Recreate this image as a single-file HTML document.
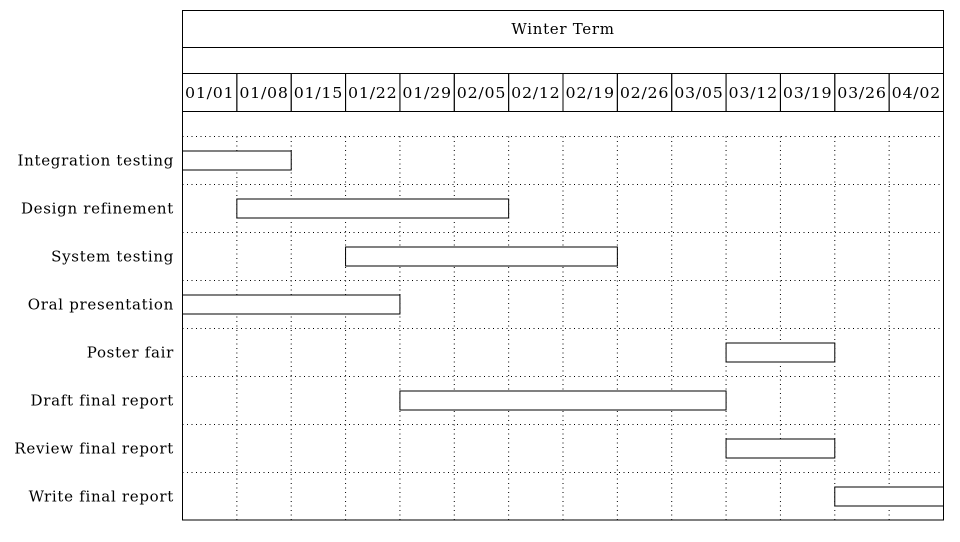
<!DOCTYPE html>
<html><head><meta charset="utf-8"><style>
body{margin:0;background:#fff;}
svg text{font-family:"DejaVu Serif","Liberation Serif",serif;font-size:15px;fill:#000;letter-spacing:0.7px;}
</style></head><body>
<svg width="960" height="537" xmlns="http://www.w3.org/2000/svg">
<g id="g"></g>
</svg>
<script>
const weeks=["01/01","01/08","01/15","01/22","01/29","02/05","02/12","02/19","02/26","03/05","03/12","03/19","03/26","04/02"];
const tasks=["Integration testing","Design refinement","System testing","Oral presentation","Poster fair","Draft final report","Review final report","Write final report"];
const starts=[0,1,3,0,10,4,10,12];
const ends=[2,6,8,4,12,10,12,14];
const title="Winter Term";
const L=182.5,R=943.5,ns="http://www.w3.org/2000/svg",g=document.getElementById('g');
const cw=(R-L)/weeks.length;
const x=w=>L+w*cw;
const rowTop=i=>136.5+48*i;
function el(t,a,txt){const e=document.createElementNS(ns,t);for(const k in a)e.setAttribute(k,a[k]);if(txt!==undefined)e.textContent=txt;g.appendChild(e);return e;}
let e=el('rect',{x:L,y:10.5,width:R-L,height:37,fill:'none',stroke:'#000'});

e=el('text',{x:(L+R)/2,y:34,'text-anchor':'middle'},title);

e=el('rect',{x:L,y:47.5,width:R-L,height:26,fill:'none',stroke:'#000'});

weeks.forEach((w,i)=>{
 e=el('rect',{x:x(i),y:73.5,width:cw,height:38,fill:'none',stroke:'#000'});
 
 e=el('text',{x:x(i)+cw/2,y:98,'text-anchor':'middle',textLength:cw-5,lengthAdjust:'spacingAndGlyphs'},w);
 
});
for(let i=0;i<tasks.length;i++){
 e=el('line',{x1:L,x2:R,y1:rowTop(i),y2:rowTop(i),stroke:'#000','stroke-dasharray':'1 3.5'});
 
}
for(let i=1;i<weeks.length;i++){
 e=el('line',{x1:x(i),x2:x(i),y1:rowTop(0),y2:520,stroke:'#000','stroke-dasharray':'1 3.5'});
 
}
e=el('rect',{x:L,y:111.5,width:R-L,height:408.5,fill:'none',stroke:'#000'});

tasks.forEach((t,i)=>{
 const cy=rowTop(i)+24;
 e=el('text',{x:174,y:cy+5,'text-anchor':'end'},t);
 
 e=el('rect',{x:x(starts[i]),y:cy-9.5,width:x(ends[i])-x(starts[i]),height:19,fill:'#fff',stroke:'#000'});
 
});
</script>
</body></html>
